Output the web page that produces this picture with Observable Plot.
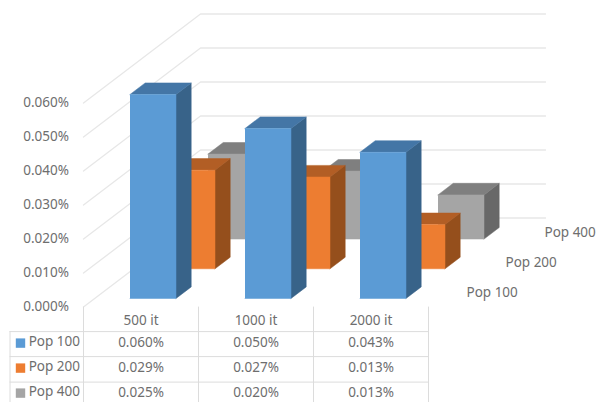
<!DOCTYPE html>
<html>
<head>
<meta charset="utf-8">
<script src="https://cdn.jsdelivr.net/npm/d3@7"></script>
<script src="https://cdn.jsdelivr.net/npm/@observablehq/plot@0.6"></script>
<style>
  html, body { margin: 0; padding: 0; background: #fff; }
  svg { display: block; }
</style>
</head>
<body>
<div id="chart"></div>
<script>
// Values in percent
const categories = ["500 it", "1000 it", "2000 it"];
const seriesNames = ["Pop 100", "Pop 200", "Pop 400"];
const pop100 = [0.060, 0.050, 0.043];
const pop200 = [0.029, 0.027, 0.013];
const pop400 = [0.025, 0.020, 0.013];
const seriesValues = [pop100, pop200, pop400];
const valueTicks = [0, 0.01, 0.02, 0.03, 0.04, 0.05, 0.06];

// Face shades per series: front, side, top
const shades = [
  {front: "#5b9bd5", side: "#386389", top: "#4476a6"},
  {front: "#ed7d31", side: "#954f1c", top: "#b25e25"},
  {front: "#a5a5a5", side: "#686868", top: "#7f7f7f"}
];

const W = 597, H = 402;
const catPx = 115;        // width of a category along x
const valPx = 3400;       // pixels per 1% of value
const originX = 83, originY = 306.6;
const depthX = 39, depthY = 29.7; // oblique shift per series slot
const barOffset = 0.306, barWidth = 0.4;
const barFront = 0.29, barDepth = 0.39;

// Oblique projection: category, value and depth map to the plane's x and y
const px = (u, d = 0) => u + d * depthX / catPx;
const py = (v, d = 0) => v + d * depthY / valPx;

// Table rows live below the zero line, expressed in value units
const below = (pixels) => -pixels / valPx;
const rowLines = [24.5, 49.5, 75, 100];
const rowMid = [36, 61, 86];
const tableBottom = below(100);

// Back wall and left wall gridlines
const grid = valueTicks.flatMap((v) => [
  {id: v, x: px(0, 0), y: py(v, 0)},
  {id: v, x: px(0, 3), y: py(v, 3)},
  {id: v, x: px(3, 3), y: py(v, 3)}
]);

// Three visible faces for each bar, far series first so nearer bars cover them
const faces = [];
[2, 1, 0].forEach((s) => {
  categories.forEach((_, c) => {
    const v = seriesValues[s][c];
    const x0 = c + barOffset, x1 = x0 + barWidth;
    const d0 = s + barFront, d1 = d0 + barDepth;
    const add = (name, color, pts) => pts.forEach(([u, val, d]) =>
      faces.push({id: `${s}-${c}-${name}`, color, x: px(u, d), y: py(val, d)}));
    add("side", shades[s].side, [[x1, 0, d0], [x1, 0, d1], [x1, v, d1], [x1, v, d0]]);
    add("top", shades[s].top, [[x0, v, d0], [x0, v, d1], [x1, v, d1], [x1, v, d0]]);
    add("front", shades[s].front, [[x0, 0, d0], [x1, 0, d0], [x1, v, d0], [x0, v, d0]]);
  });
});

// Data table rules
const tableLeft = -73.5 / catPx;
const hRules = rowLines.map((r) => ({x1: tableLeft, x2: 3, y: below(r)}));
const vRules = [0, 1, 2, 3].map((x) => ({x, y1: 0, y2: tableBottom}));
vRules.push({x: tableLeft, y1: below(rowLines[0]), y2: tableBottom});

const cells = seriesValues.flatMap((vals, s) => vals.map((v, c) => ({
  x: c + 0.5, y: below(rowMid[s]), label: `${v.toFixed(3)}%`
})));
const legendRows = seriesNames.map((name, s) => ({
  name, color: shades[s].front, y: below(rowMid[s])
}));

const font = "'Noto Sans', 'Open Sans', sans-serif";
const ink = "#6e6e6e";
const textOpts = {fill: ink, fontSize: 13.5, fontFamily: font};

const chart = Plot.plot({
  width: W, height: H,
  margin: 0,
  style: {background: "#fff"},
  x: {type: "linear", domain: [-originX / catPx, (W - originX) / catPx], range: [0, W], axis: null},
  y: {type: "linear", domain: [(originY - H) / valPx, originY / valPx], range: [H, 0], axis: null},
  color: {type: "identity"},
  marks: [
    Plot.line(grid, {x: "x", y: "y", z: "id", stroke: "#e7e7e7", strokeWidth: 1.3, curve: "linear"}),
    Plot.line(faces, {x: "x", y: "y", z: "id", fill: "color", stroke: "color", strokeWidth: 0.5, curve: "linear"}),

    // Value labels along the front-left edge
    Plot.text(valueTicks, {
      x: () => 0, y: (d) => d, text: (d) => `${d.toFixed(3)}%`,
      textAnchor: "end", dx: -14.5, ...textOpts
    }),
    // Series labels along the depth edge
    Plot.text(seriesNames, {
      x: (_, i) => px(3, i + 0.5), y: (_, i) => py(0, i + 0.5), text: (d) => d,
      textAnchor: "start", dx: 18.5, ...textOpts
    }),

    // Data table
    Plot.ruleY(hRules, {x1: "x1", x2: "x2", y: "y", stroke: "#dcdcdc", strokeWidth: 1}),
    Plot.ruleX(vRules, {x: "x", y1: "y1", y2: "y2", stroke: "#dcdcdc", strokeWidth: 1}),
    Plot.text(categories, {
      x: (_, i) => i + 0.5, y: () => below(14), text: (d) => d, ...textOpts
    }),
    Plot.text(cells, {x: "x", y: "y", text: "label", ...textOpts}),
    Plot.dot(legendRows, {
      x: () => tableLeft, y: "y", symbol: "square", r: 5.3, fill: "color", dx: 10.5
    }),
    Plot.text(legendRows, {
      x: () => 0, y: "y", text: "name", textAnchor: "end", dx: -3.5, dy: -1.5, ...textOpts
    })
  ]
});
document.getElementById("chart").append(chart);
</script>
</body>
</html>
